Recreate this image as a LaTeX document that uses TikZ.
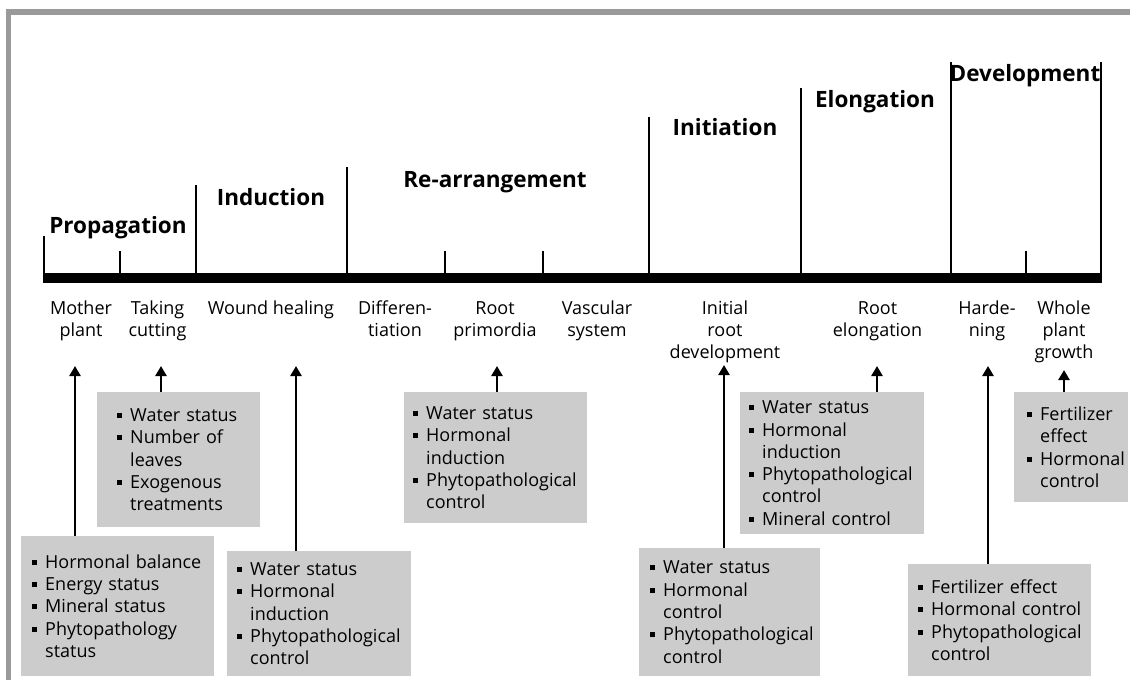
\documentclass[tikz,border=0pt]{standalone}
\usepackage{fontspec}
\setmainfont{Open Sans}
\usetikzlibrary{arrows.meta}
\definecolor{boxgray}{HTML}{CCCCCC}
\definecolor{framegray}{HTML}{9A9A9A}
\newcommand\Bu{\makebox[13pt][l]{\rule[3.5pt]{5pt}{5pt}}}
\newcommand\In{\hspace*{13pt}}
\begin{document}
\begin{tikzpicture}[x=1pt,y=-1pt,
  lab/.style={font=\fontsize{18}{22.3}\selectfont, align=center, inner sep=0pt, anchor=base},
  head/.style={font=\fontsize{22.5}{26}\selectfont\bfseries, inner sep=0pt, anchor=base},
  box/.style={fill=boxgray, anchor=north west, inner ysep=0pt, align=left,
    font=\fontsize{18}{22.3}\selectfont},
  arr/.style={line width=2.6pt, -{Triangle[length=10pt,width=11pt]}},
  tickline/.style={line width=1.1pt},
  bar/.style={line width=10pt}]
\useasboundingbox (0,0) rectangle (1130,680);
% frame
\draw[framegray, line width=5.5pt] (8.5,682) -- (8.5,12) -- (1132,12);
% timeline bar
\coordinate (b0) at (43,278);
\coordinate (b1) at (1102,278);
\draw[bar] (b0) -- (b1);
% ticks
\foreach \x/\t in {44/236, 120/251, 196/185, 347/167, 445/251, 543/251, 649/117, 801/88, 951/62, 1026/251, 1101/62}
  \draw[tickline] (\x,\t) -- (\x,273);
% headers
\node[head] (hProp) at (118,233) {Propagation};
\node[head] (hInd) at (271,205) {Induction};
\node[head] (hRe) at (495,187) {Re-arrangement};
\node[head] (hIni) at (725,135) {Initiation};
\node[head] (hElo) at (875,107) {Elongation};
\node[head] (hDev) at (1025,81) {Development};
% labels under bar (base = last line's baseline)
\node[lab] (lMo) at (81,336.3) {Mother\\plant};
\node[lab] (lTa) at (157.5,336.3) {Taking\\cutting};
\node[lab] (lWo) at (271,314) {Wound healing};
\node[lab] (lDi) at (395,336.3) {Differen-\\tiation};
\node[lab] (lRp) at (495,336.3) {Root\\primordia};
\node[lab] (lVa) at (597,336.3) {Vascular\\system};
\node[lab] (lIn) at (725,358.6) {Initial\\root\\development};
\node[lab] (lRe) at (877.5,336.3) {Root\\elongation};
\node[lab] (lHa) at (987,336.3) {Harde-\\ning};
\node[lab] (lWh) at (1064,358.6) {Whole\\plant\\growth};
% boxes
\node[box, inner xsep=11pt, text width=171pt, minimum height=140pt] (bA) at (21,536)
  {\Bu Hormonal balance\\\Bu Energy status\\\Bu Mineral status\\\Bu Phytopathology\\\In status};
\node[box, inner xsep=20pt, text width=123pt, minimum height=135pt] (bB) at (97,392)
  {\Bu Water status\\\Bu Number of\\\In leaves\\\Bu Exogenous\\\In treatments};
\node[box, inner xsep=10pt, text width=164pt, minimum height=125pt] (bC) at (227,551)
  {\Bu Water status\\\Bu Hormonal\\\In induction\\\Bu Phytopathological\\\In control};
\node[box, inner xsep=9pt, text width=165pt, minimum height=131pt] (bD) at (404,392)
  {\Bu Water status\\\Bu Hormonal\\\In induction\\\Bu Phytopathological\\\In control};
\node[box, inner xsep=11pt, text width=159pt, minimum height=128pt] (bE) at (639,548)
  {\Bu Water status\\\Bu Hormonal\\\In control\\\Bu Phytopathological\\\In control};
\node[box, inner xsep=9pt, text width=166pt, minimum height=142pt] (bF) at (740,392)
  {\Bu Water status\\\Bu Hormonal\\\In induction\\\Bu Phytopathological\\\In control\\\Bu Mineral control};
\node[box, inner xsep=10pt, text width=163pt, minimum height=112pt] (bG) at (908,564)
  {\Bu Fertilizer effect\\\Bu Hormonal control\\\Bu Phytopathological\\\In control};
\node[box, inner xsep=13pt, text width=88pt, minimum height=110pt] (bH) at (1014,392)
  {\Bu Fertilizer\\\In effect\\\Bu Hormonal\\\In control};
% arrow tips
\coordinate (tA) at (75,366);
\coordinate (tB) at (161,366);
\coordinate (tC) at (296,366);
\coordinate (tD) at (497,366);
\coordinate (tE) at (724,365);
\coordinate (tF) at (877,366);
\coordinate (tG) at (988,366);
\coordinate (tH) at (1064,370);
\draw[arr] (bA.north -| tA) -- (tA);
\draw[arr] (bB.north -| tB) -- (tB);
\draw[arr] (bC.north -| tC) -- (tC);
\draw[arr] (bD.north -| tD) -- (tD);
\draw[arr] (bE.north -| tE) -- (tE);
\draw[arr] (bF.north -| tF) -- (tF);
\draw[arr] (bG.north -| tG) -- (tG);
\draw[arr] (bH.north -| tH) -- (tH);
\end{tikzpicture}
\end{document}
